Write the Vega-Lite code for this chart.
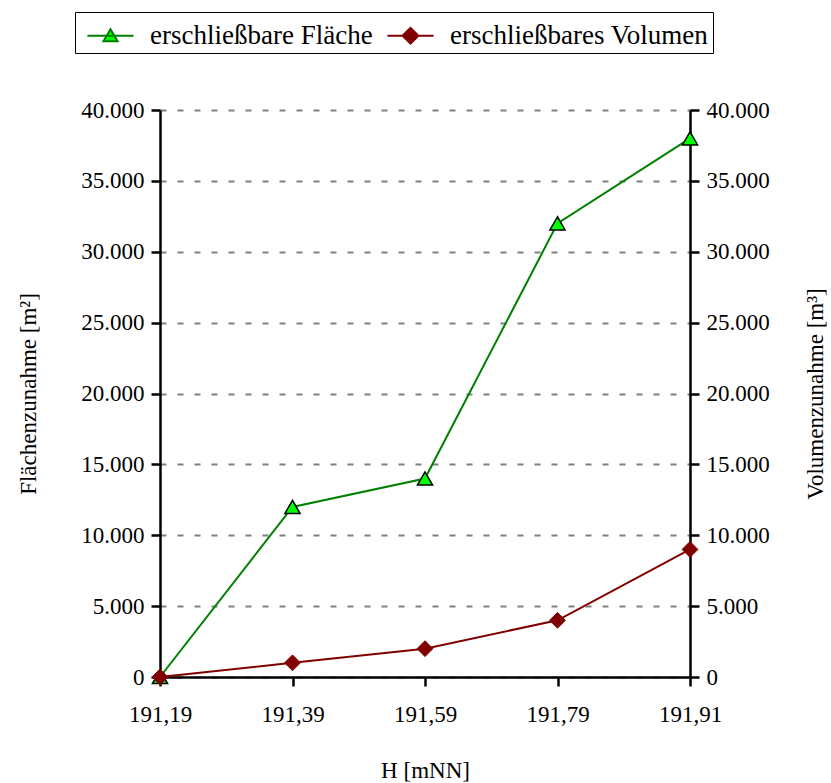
{
  "$schema": "https://vega.github.io/schema/vega-lite/v6.json",
  "width": 530,
  "height": 567,
  "autosize": {"type": "none"},
  "padding": {"left": 160, "top": 110, "right": 141, "bottom": 106},
  "background": "white",
  "config": {
    "font": "Liberation Serif",
    "view": {"stroke": null},
    "axis": {
      "labelFont": "Liberation Serif",
      "titleFont": "Liberation Serif",
      "labelFontSize": 23,
      "titleFontSize": 23,
      "titleFontWeight": "normal",
      "labelColor": "black",
      "titleColor": "black",
      "domainColor": "black",
      "domainWidth": 2.5,
      "tickColor": "black",
      "tickWidth": 2.5,
      "tickSize": 9
    },
    "legend": {
      "labelFont": "Liberation Serif",
      "labelFontSize": 27,
      "labelColor": "black",
      "labelLimit": 500,
      "orient": "none",
      "legendX": -85,
      "legendY": -98,
      "direction": "horizontal",
      "strokeColor": "black",
      "padding": 4,
      "symbolSize": 1300,
      "symbolOffset": 12,
      "symbolStrokeWidth": 2,
      "labelOffset": 20,
      "columnPadding": 6
    }
  },
  "data": {
    "values": [
      {"H": "191,19", "series": "erschließbare Fläche", "value": 0},
      {"H": "191,39", "series": "erschließbare Fläche", "value": 12000},
      {"H": "191,59", "series": "erschließbare Fläche", "value": 14000},
      {"H": "191,79", "series": "erschließbare Fläche", "value": 32000},
      {"H": "191,91", "series": "erschließbare Fläche", "value": 38000},
      {"H": "191,19", "series": "erschließbares Volumen", "value": 0},
      {"H": "191,39", "series": "erschließbares Volumen", "value": 1000},
      {"H": "191,59", "series": "erschließbares Volumen", "value": 2000},
      {"H": "191,79", "series": "erschließbares Volumen", "value": 4000},
      {"H": "191,91", "series": "erschließbares Volumen", "value": 9000}
    ]
  },
  "encoding": {
    "x": {
      "field": "H",
      "type": "ordinal",
      "sort": null,
      "scale": {"type": "point", "padding": 0},
      "axis": {"title": "H [mNN]", "labelAngle": 0, "labelPadding": 17, "titlePadding": 33}
    }
  },
  "layer": [
    {
      "transform": [{"filter": "datum.series === 'erschließbare Fläche'"}],
      "encoding": {
        "y": {
          "field": "value",
          "type": "quantitative",
          "scale": {"domain": [0, 40000]},
          "axis": {
            "orient": "left",
            "title": "Flächenzunahme [m²]",
            "values": [0, 5000, 10000, 15000, 20000, 25000, 30000, 35000, 40000],
            "labelExpr": "replace(format(datum.value, ',d'), ',', '.')",
            "labelOverlap": false,
            "labelPadding": 7,
            "titlePadding": 40,
            "grid": true,
            "gridColor": "#808080",
            "gridWidth": 2,
            "gridDash": [6, 11]
          }
        }
      },
      "layer": [
        {
          "mark": {"type": "line", "strokeWidth": 2},
          "encoding": {
            "stroke": {
              "field": "series",
              "type": "nominal",
              "scale": {"domain": ["erschließbare Fläche", "erschließbares Volumen"], "range": ["#008000", "#800000"]},
              "legend": {
                "title": null,
                "encode": {
                  "symbols": {
                    "update": {
                      "shape": {"signal": "datum.value === 'erschließbare Fläche' ? 'M-1.28,0H1.28M-0.39,0.3L0,-0.36L0.39,0.3Z' : 'M-1.28,0H1.28M-0.44,0L0,-0.44L0.44,0L0,0.44Z'"},
                      "strokeWidth": {"value": 2}
                    }
                  }
                }
              }
            }
          }
        },
        {
          "mark": {"type": "point", "shape": "triangle-up", "filled": true, "size": 230, "stroke": "black", "strokeWidth": 1.5, "opacity": 1},
          "encoding": {
            "fill": {
              "field": "series",
              "type": "nominal",
              "scale": {"domain": ["erschließbare Fläche", "erschließbares Volumen"], "range": ["#00ff00", "#800000"]},
              "legend": {"title": null}
            }
          }
        }
      ]
    },
    {
      "transform": [{"filter": "datum.series === 'erschließbares Volumen'"}],
      "encoding": {
        "y": {
          "field": "value",
          "type": "quantitative",
          "scale": {"domain": [0, 40000]},
          "axis": {
            "orient": "right",
            "title": "Volumenzunahme [m³]",
            "titleAngle": -90,
            "values": [0, 5000, 10000, 15000, 20000, 25000, 30000, 35000, 40000],
            "labelExpr": "replace(format(datum.value, ',d'), ',', '.')",
            "labelOverlap": false,
            "labelPadding": 7,
            "titlePadding": 58,
            "grid": false
          }
        }
      },
      "layer": [
        {
          "mark": {"type": "line", "strokeWidth": 2},
          "encoding": {
            "stroke": {
              "field": "series",
              "type": "nominal",
              "scale": {"domain": ["erschließbare Fläche", "erschließbares Volumen"], "range": ["#008000", "#800000"]},
              "legend": {"title": null}
            }
          }
        },
        {
          "mark": {"type": "point", "shape": "diamond", "filled": true, "size": 250, "stroke": "#800000", "strokeWidth": 1, "opacity": 1},
          "encoding": {
            "fill": {
              "field": "series",
              "type": "nominal",
              "scale": {"domain": ["erschließbare Fläche", "erschließbares Volumen"], "range": ["#00ff00", "#800000"]},
              "legend": {"title": null}
            }
          }
        }
      ]
    }
  ],
  "resolve": {"scale": {"y": "independent"}}
}
